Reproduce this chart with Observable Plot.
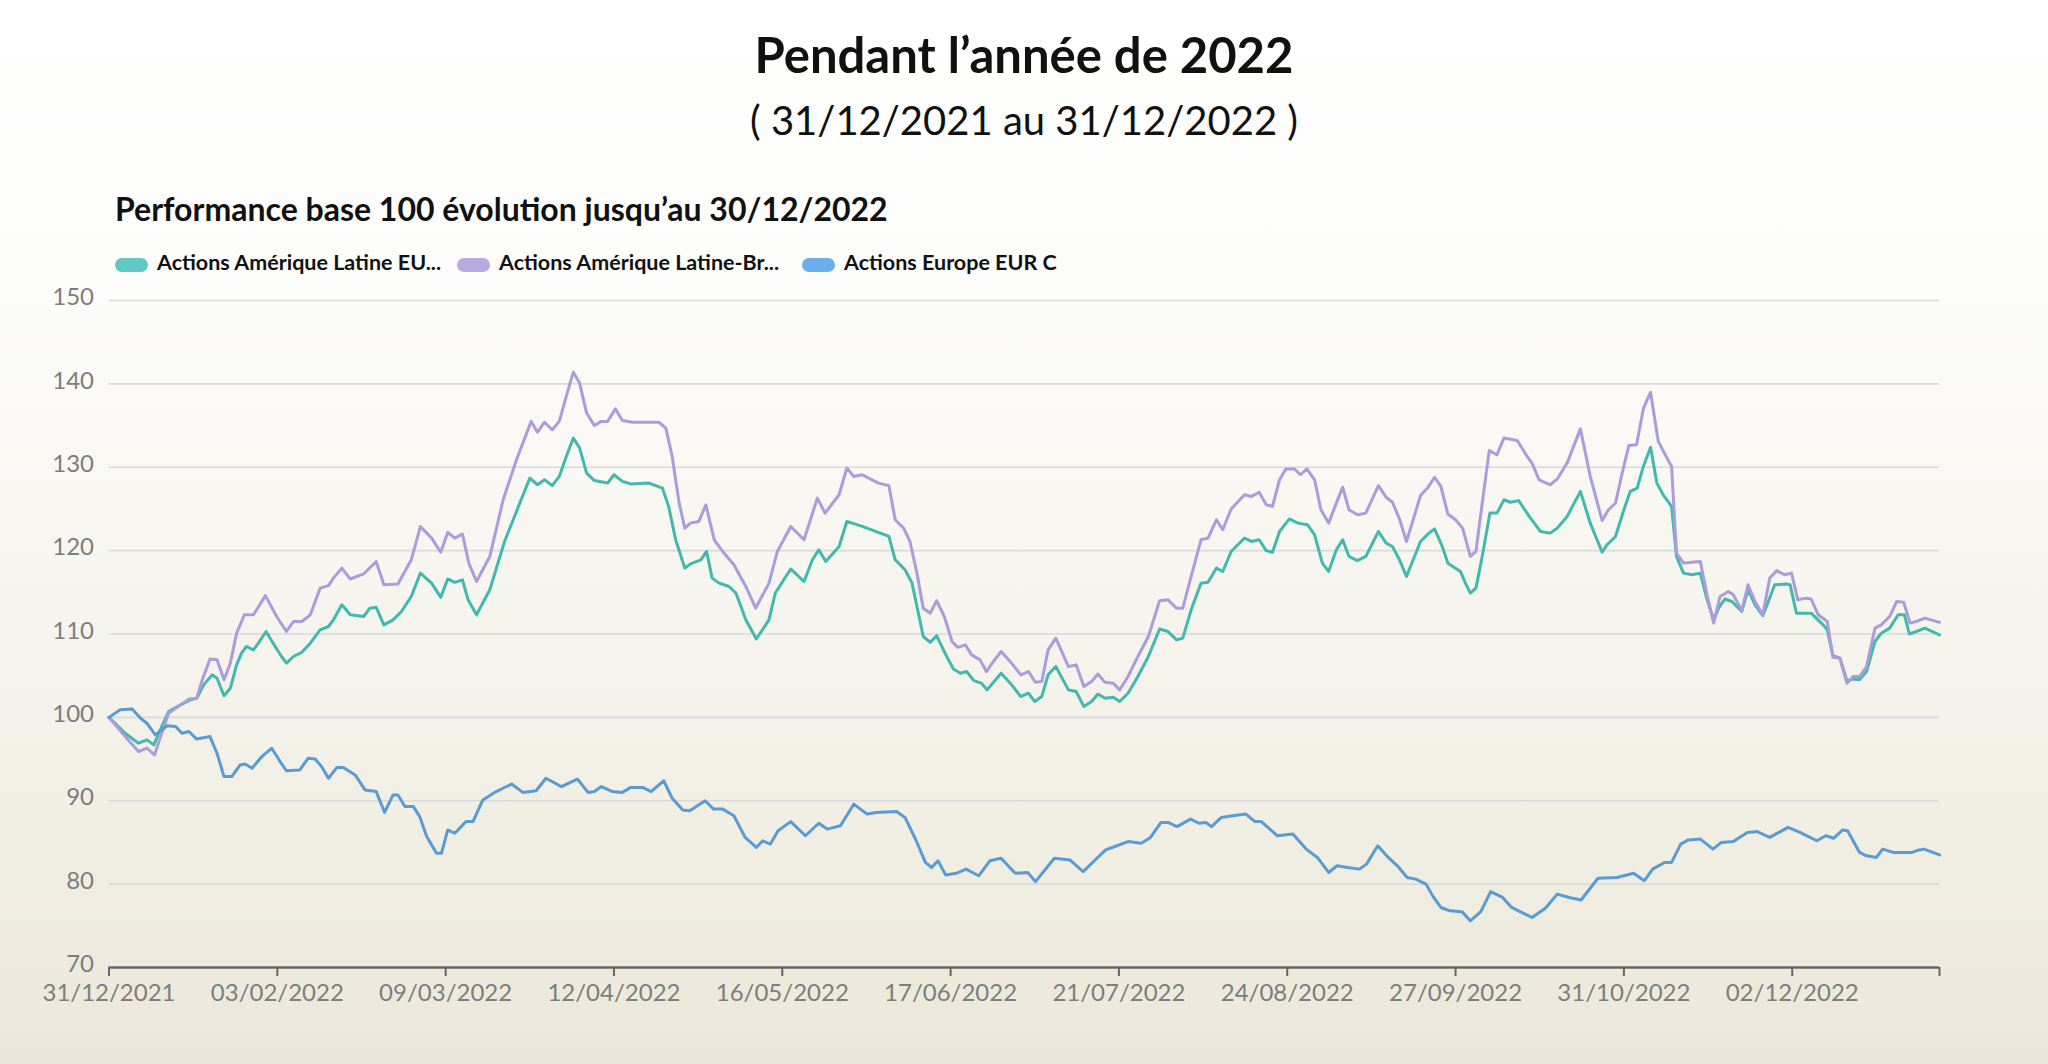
<!DOCTYPE html>
<html lang="fr">
<head>
<meta charset="utf-8">
<script src="https://cdn.jsdelivr.net/npm/d3@7"></script>
<script src="https://cdn.jsdelivr.net/npm/@observablehq/plot@0.6"></script>
<style>
  html, body { margin: 0; padding: 0; }
  #page {
    position: relative; width: 2048px; height: 1064px; overflow: hidden;
    background: linear-gradient(to bottom, #ffffff 0%, #fcfcfa 28%, #f5f3ec 62%, #ebe7d8 100%);
    font-family: Lato, "Noto Sans", sans-serif; color: #111;
  }
  .abs { position: absolute; line-height: 1; white-space: nowrap; }
  #title { left: 0; width: 2048px; text-align: center; top: 30px; font-size: 49px; font-weight: 700; }
  #subtitle { left: 0; width: 2048px; text-align: center; top: 100px; font-size: 40px; font-weight: 400; }
  #ctitle { left: 115px; top: 193px; font-size: 32px; font-weight: 700; }
  .leg { position: absolute; top: 252px; height: 26px; }
  .sw { position: absolute; left: 0; top: 6px; width: 33px; height: 14px; border-radius: 7px; }
  .lt { position: absolute; left: 42px; top: 0; font-size: 21.5px; font-weight: 700; line-height: 1; white-space: nowrap; }
  #chart { position: absolute; left: 0; top: 280px; }
</style>
</head>
<body>
<div id="page">
  <div id="title" class="abs">Pendant l’année de 2022</div>
  <div id="subtitle" class="abs">( 31/12/2021 au 31/12/2022 )</div>
  <div id="ctitle" class="abs">Performance base 100 évolution jusqu’au 30/12/2022</div>
  <div id="legend"></div>
  <div id="chart"></div>
</div>
<script>
// ---- Data (trading-day index, base 100) ----
const seriesNames = ["Actions Amérique Latine EU...", "Actions Amérique Latine-Br...", "Actions Europe EUR C"];
const lineColors = ["#43b8ac", "#ab9ddb", "#5a9bd4"];
const legendColors = ["#62c8c5", "#b7aae1", "#6eaeea"];
const legendLeft = [115, 457, 802];

const tickIdx = [0, 24, 48, 72, 96, 120, 144, 168, 192, 216, 240, 261];
const tickLabels = ["31/12/2021","03/02/2022","09/03/2022","12/04/2022","16/05/2022","17/06/2022","21/07/2022","24/08/2022","27/09/2022","31/10/2022","02/12/2022",""];
const yTicks = [70, 80, 90, 100, 110, 120, 130, 140, 150];

const tealIdx = [0,2.3,4.2,5.4,6.4,7.1,8.5,10.2,11.6,12.5,13.5,14.7,15.4,16.4,17.3,18.2,18.9,19.6,20.6,21.3,22.4,23.4,24.6,25.3,26.3,27.5,28.7,30.1,31.3,32,33.2,34.4,36.3,37.2,38.1,39.2,40.5,41.7,43.1,44.4,46,47.3,48.3,49.3,50.4,51.2,52.4,54.3,56.4,58.1,60,61.1,62.1,63.2,64.2,65.2,66.2,67.1,68.1,69.2,71.1,72,73.2,74.4,77,78.9,79.8,80.8,82.1,82.9,84.4,85.2,86,87,88.4,89.4,90.8,92.3,94.1,95,97.2,99.1,100.3,101.2,102.2,104.1,105.2,107.4,111.2,112.1,113.5,114.5,116.1,117.1,118,119.2,120.4,121.4,122.3,123.3,124.4,125.2,127.2,128.7,130,131.1,132,133,133.9,135,136.8,137.9,139,140.1,141,142,143.2,144.1,145.3,146.7,148.2,149.8,151,152.2,153.1,154.3,155.7,156.7,157.9,158.8,160,161.9,162.9,164,165,165.9,166.9,168.3,169.5,170.9,171.9,173,173.9,175,175.9,176.8,178,179.2,181,182.1,183,184,185,187,188.2,189,190.1,190.9,192.7,193.4,194.1,194.9,195.8,196.9,197.9,198.9,199.8,201,202.5,204.1,205.5,206.5,207.9,209.8,211.2,212.9,213.6,214.8,216,216.9,217.9,218.7,219.8,220.7,221.6,222.8,223.5,224.5,225.7,226.9,227.8,228.8,229.5,230.4,231.4,232.8,233.7,234.7,235.8,236.6,237.5,239.2,239.7,240.6,242.7,244.4,245,245.8,246.8,247.8,248.7,249.6,250.6,251.8,252.7,253.9,255.1,256,256.7,257.7,258.9,261];
const tealVal = [100,98.1,96.9,97.3,96.7,98.1,100.7,101.5,102.1,102.3,103.9,105.1,104.7,102.6,103.5,106.3,107.7,108.5,108.1,108.9,110.3,108.9,107.3,106.5,107.3,107.8,108.9,110.5,110.9,111.7,113.5,112.3,112.1,113.1,113.2,111.1,111.7,112.7,114.5,117.3,116.1,114.4,116.6,116.2,116.5,114.1,112.3,115.3,121.1,124.7,128.7,127.9,128.5,127.8,128.9,131.3,133.5,132.3,129.3,128.4,128.1,129.1,128.3,128,128.1,127.5,125.3,121.3,117.9,118.4,118.9,119.9,116.7,116.1,115.7,114.9,111.7,109.4,111.7,114.9,117.8,116.3,118.9,120.1,118.7,120.5,123.5,122.9,121.7,118.9,117.7,116.1,109.7,109,109.8,107.7,105.8,105.3,105.5,104.4,104.1,103.3,105.3,103.9,102.5,102.9,101.9,102.5,105.1,106.1,103.3,103.1,101.3,101.9,102.8,102.3,102.4,101.9,102.9,104.9,107.3,110.6,110.3,109.3,109.5,112.9,116.1,116.2,117.9,117.5,119.9,121.5,121.1,121.3,120,119.8,122.3,123.8,123.3,123.1,121.9,118.5,117.5,120.1,121.3,119.3,118.8,119.3,122.3,120.9,120.5,118.9,116.9,121.1,122.1,122.6,120.5,118.5,117.5,116.1,114.9,115.5,119.3,124.5,124.5,126.1,125.8,126,124.1,122.3,122.1,122.7,124.1,127.1,123.3,119.8,120.7,121.7,124.9,127.1,127.5,129.9,132.4,128.1,126.7,125.3,119.3,117.3,117.1,117.3,114.3,111.7,113.1,114.2,113.9,112.7,115.3,113.5,112.2,113.9,115.9,116,115.9,112.5,112.5,111.1,110.5,107.4,107.1,104.4,104.6,104.5,105.5,109.1,110.1,110.7,112.3,112.3,110,110.3,110.7,109.9];

const purpleIdx = [0,2.3,4.2,5.4,6.5,7.2,8.5,10.2,11.4,12.5,13.3,14.4,15.4,16.4,17.3,18.2,19.3,20.6,22.3,23.9,25.3,26.3,27.5,28.7,30.1,31.3,32,33.2,34.4,36.3,38.1,39.2,41.2,43.1,44.4,46,47.3,48.3,49.3,50.4,51.3,52.4,54.3,56.2,58.1,60.2,61.1,62.1,63.2,64.2,65.2,66.2,67.1,68.1,69.2,70.2,71.1,72.2,73.2,74.7,78.4,79.4,80.3,81.3,82.1,82.9,84.1,85.1,86.3,87.5,89.1,90.8,92.2,94.1,95.3,97.2,99.1,101,102.1,104.1,105.2,106.2,107.4,109.7,111.2,112.1,113.3,114.2,115.2,116.1,117.1,118,119.1,120.2,121,122.1,123,124.2,125.1,126.1,127.2,128.7,130,131.1,132.1,133,133.9,135,136.8,137.9,139,140.1,141,142,143.2,144.1,145.3,146.7,148.2,149.8,151,152.2,153.1,154.3,155.7,156.7,157.9,158.8,160,161.9,162.9,164,165,165.9,166.9,167.8,169,169.9,170.8,171.9,172.8,173.9,175,175.9,176.8,178,179.2,181,182.1,183,184,185,187,188,189,189.9,190.9,192,193,194.1,194.9,195.8,196.8,197.9,198.9,200.8,202.2,202.9,203.9,205.5,206.5,207.9,209.8,211.2,212.9,213.8,214.8,215.7,216.7,217.8,218.8,219.8,220.9,221.9,222.8,223.5,224.5,225.7,226.9,227.8,228.8,229.7,230.9,231.6,232.8,233.7,234.7,235.8,236.8,237.8,238.9,239.9,240.8,242,242.7,243.7,245,245.8,246.8,247.8,248.7,249.6,250.6,251.8,252.7,253.9,254.9,255.9,256.8,257.7,258.9,261];
const purpleVal = [100,97.7,95.9,96.3,95.5,97.3,100.5,101.5,102.2,102.3,104.5,107,106.9,104.5,106.5,110.1,112.3,112.3,114.6,112.1,110.3,111.5,111.5,112.3,115.5,115.8,116.7,117.9,116.6,117.2,118.7,115.9,116,118.9,122.9,121.5,119.8,122.2,121.5,122,118.5,116.3,119.3,126.1,130.9,135.5,134.2,135.4,134.5,135.5,138.5,141.4,140.1,136.5,135,135.5,135.5,137,135.6,135.4,135.4,134.7,131.3,125.7,122.7,123.3,123.5,125.5,121.3,119.9,118.3,115.7,113.1,116.1,119.9,122.9,121.3,126.3,124.5,126.7,129.9,128.9,129.1,128.1,127.8,123.7,122.7,121.1,117.3,113.1,112.5,114,112.1,109.1,108.4,108.7,107.5,106.9,105.5,106.7,107.9,106.5,105.1,105.5,104.2,104.3,108.1,109.5,106.1,106.3,103.7,104.3,105.2,104.2,104.1,103.3,104.9,107.3,109.7,114,114.1,113.1,113.1,116.9,121.3,121.5,123.7,122.5,125,126.7,126.5,127,125.5,125.3,128.5,129.8,129.8,129.1,129.8,128.5,124.9,123.3,125.7,127.6,124.9,124.3,124.5,127.8,126.4,125.8,123.8,121.1,126.6,127.5,128.8,127.7,124.4,123.7,122.7,119.3,119.9,125.7,132,131.5,133.5,133.2,131.3,130.5,128.5,127.9,128.6,130.5,134.6,128.9,123.6,124.9,125.7,129.1,132.6,132.7,137.1,139,133.1,131.5,130.1,119.7,118.5,118.6,118.7,114.9,111.3,114.5,115.1,114.7,112.8,115.9,113.9,112.3,116.7,117.6,117.1,117.3,114.1,114.3,114.2,112.3,111.5,107.2,107.1,104.1,104.9,104.9,106.1,110.7,111.1,112.1,113.9,113.8,111.3,111.5,111.9,111.4];

const blueIdx = [0,1.6,3.3,4.5,5.4,6.6,8.3,9.5,10.4,11.4,12.5,14.4,15.4,16.4,17.5,18.7,19.4,20.4,21.8,23.2,24.4,25.3,27.2,28.4,29.4,30.3,31.3,32.5,33.4,35.1,36.5,38.1,39.3,40.5,41.2,42.2,43.4,44.3,45.3,46.7,47.4,48.3,49.3,50.9,51.9,53.3,55.2,56.2,57.4,59,60.9,62.3,64.5,66.8,68.3,69.2,70.2,71.8,73.2,74.4,76.1,77.3,79.1,80.3,81.8,82.8,85,86.2,87.5,89.1,90.7,92.3,93.2,94.3,95.4,97.2,99.3,101.2,102.4,104.3,106.2,108.1,109.4,112.3,113.5,115.1,116.4,117.3,118.2,119.3,120.8,122.2,124,125.6,127.2,129.2,131,132.1,134.8,137,138.9,140.5,142.1,143.7,145.3,147.2,148.5,150,151,152.3,154.2,155.4,156.4,157.2,158.6,160.2,162.1,163.4,164.3,166.6,168.8,170.7,172.3,173.9,175.1,176.6,178.3,179.3,180.9,182.4,183.7,185.1,186.3,187.8,188.8,189.9,191.2,192.9,194.1,195.6,197,198.7,200,201.7,202.9,204.8,206.5,208.2,209.9,212.3,215,217.4,218.9,220.1,221.8,222.8,224.1,225.2,226.9,228.7,229.9,231.6,233.6,235,236.8,239.4,241.1,243.5,244.8,245.9,247.2,247.9,249.6,250.6,252,252.9,254.4,257.1,258.1,258.8,261];
const blueVal = [100,100.9,101,99.9,99.3,97.9,99,98.9,98.1,98.3,97.4,97.7,95.7,92.9,92.9,94.3,94.4,93.9,95.3,96.3,94.7,93.6,93.7,95.1,95,94.1,92.7,94,94,93.1,91.3,91.1,88.6,90.7,90.7,89.3,89.3,88.1,85.7,83.7,83.7,86.5,86.1,87.5,87.5,90.1,91.1,91.5,92,91,91.2,92.7,91.7,92.6,91,91.1,91.7,91.1,91,91.6,91.6,91.1,92.4,90.3,88.9,88.8,90,89,89,88.2,85.6,84.4,85.2,84.8,86.4,87.5,85.8,87.3,86.6,87,89.6,88.4,88.6,88.7,88,85.2,82.6,82,82.8,81.1,81.3,81.8,81,82.8,83.1,81.3,81.4,80.3,83.1,82.9,81.5,82.8,84.1,84.6,85.1,84.9,85.6,87.4,87.4,86.9,87.8,87.3,87.4,86.9,88,88.2,88.4,87.5,87.5,85.8,86,84.2,83.2,81.4,82.2,82,81.8,82.4,84.6,83.2,82.2,80.8,80.6,80,78.5,77.2,76.8,76.7,75.6,76.7,79.1,78.4,77.2,76.5,76,77.1,78.8,78.4,78.1,80.7,80.8,81.3,80.4,81.8,82.6,82.6,84.8,85.3,85.4,84.2,85,85.1,86.2,86.3,85.6,86.8,86.2,85.2,85.8,85.5,86.5,86.4,83.8,83.4,83.2,84.2,83.8,83.8,84.1,84.2,83.5];

// ---- Build table ----
const seriesIdx = [tealIdx, purpleIdx, blueIdx];
const seriesVal = [tealVal, purpleVal, blueVal];
const rows = [];
seriesNames.forEach((name, s) => {
  seriesIdx[s].forEach((x, i) => rows.push({series: name, x, y: seriesVal[s][i]}));
});
const labelOf = new Map(tickIdx.map((t, i) => [t, tickLabels[i]]));

// ---- Legend (HTML) ----
const legend = document.getElementById("legend");
seriesNames.forEach((name, i) => {
  const item = document.createElement("div");
  item.className = "leg";
  item.style.left = legendLeft[i] + "px";
  item.innerHTML = `<span class="sw" style="background:${legendColors[i]}"></span><span class="lt">${name}</span>`;
  legend.appendChild(item);
});

// ---- Chart ----
const chart = Plot.plot({
  width: 2048,
  height: 784,
  marginTop: 20,
  marginBottom: 97,
  marginLeft: 108.5,
  marginRight: 109,
  style: {background: "transparent", fontFamily: "Lato, 'Noto Sans', sans-serif", overflow: "visible"},
  x: {domain: [0, 261]},
  y: {domain: [70, 150]},
  color: {domain: seriesNames, range: lineColors},
  marks: [
    Plot.gridY(yTicks.filter(d => d > 70), {stroke: "#dadada", strokeOpacity: 1, strokeWidth: 1.6}),
    Plot.axisY(yTicks, {tickSize: 0, tickPadding: 15, fontSize: 24, fill: "#7d7d7d", label: null, dy: -3}),
    Plot.axisX(tickIdx, {tickSize: 9, tickPadding: 7, fontSize: 24, fill: "#7d7d7d", stroke: "#666", strokeWidth: 2,
      tickFormat: d => labelOf.get(d) ?? "", label: null}),
    Plot.ruleY([70], {stroke: "#666", strokeWidth: 2.5}),
    Plot.line(rows, {x: "x", y: "y", z: "series", stroke: "series", strokeWidth: 3, strokeLinejoin: "round", curve: "linear"})
  ]
});
document.getElementById("chart").appendChild(chart);
</script>
</body>
</html>
